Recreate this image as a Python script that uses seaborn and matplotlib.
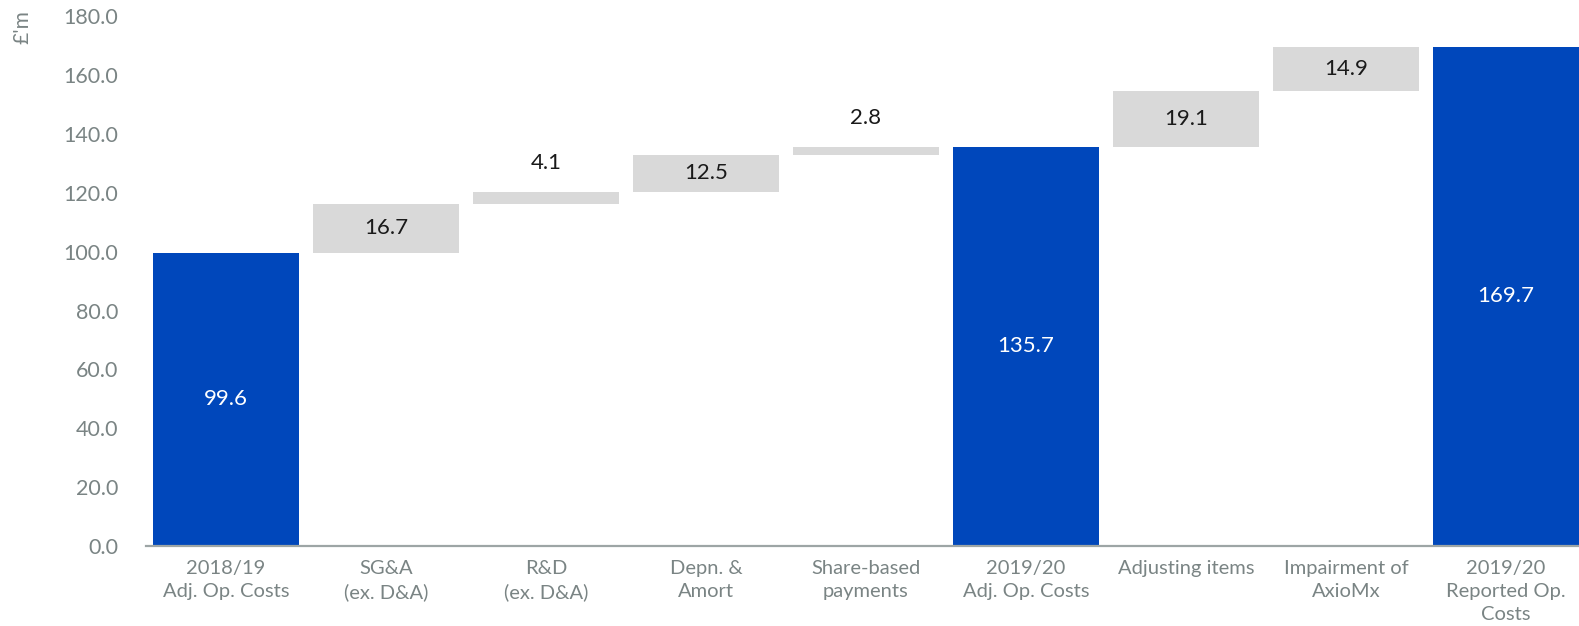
import matplotlib
matplotlib.use("Agg")
import matplotlib.pyplot as plt
import seaborn as sns
import numpy as np
from matplotlib.ticker import FixedLocator

categories = ["2018/19\nAdj. Op. Costs", "SG&A\n(ex. D&A)", "R&D\n(ex. D&A)", "Depn. &\nAmort",
              "Share-based\npayments", "2019/20\nAdj. Op. Costs", "Adjusting items",
              "Impairment of\nAxioMx", "2019/20\nReported Op.\nCosts"]
values = [99.6, 16.7, 4.1, 12.5, 2.8, 135.7, 19.1, 14.9, 169.7]
is_total = [True, False, False, False, False, True, False, False, True]
y_ticks = [0, 20, 40, 60, 80, 100, 120, 140, 160, 180]

BLUE = "#0047BB"
GREY = "#D9D9D9"
TICK_COL = "#7A8484"

# compute bottoms for waterfall
bottoms = []
running = 0.0
for v, t in zip(values, is_total):
    if t:
        bottoms.append(0.0)
        running = v
    else:
        bottoms.append(running)
        running += v
tops = [b + v for b, v in zip(bottoms, values)]
colors = [BLUE if t else GREY for t in is_total]

sns.set_theme(style="white")
plt.rcParams["font.family"] = ["Lato", "DejaVu Sans"]

fig = plt.figure(figsize=(15.79, 6.26), dpi=100)
ax = fig.add_axes([146 / 1579, 1 - 546 / 626, 1440 / 1579, 529.6 / 626])

sns.barplot(x=categories, y=tops, hue=categories, palette=colors, legend=False,
            width=0.91, saturation=1, ax=ax, linewidth=0)
sns.barplot(x=categories, y=bottoms, color="white", width=0.91, saturation=1, ax=ax, linewidth=0)

ax.set_ylim(0, 180)
ax.set_xlim(-0.5, len(categories) - 0.5)
ax.set_yticks(y_ticks)
ax.set_yticklabels([f"{v:.1f}" for v in y_ticks], color=TICK_COL, fontsize=15.5)
ax.tick_params(axis="y", length=0, pad=20)
ax.tick_params(axis="x", which="major", length=0, pad=10, labelsize=14.5, labelcolor=TICK_COL)
for lab in ax.get_xticklabels():
    lab.set_linespacing(1.45)
ax.xaxis.set_minor_locator(FixedLocator(np.arange(-0.5, len(categories), 1.0)))
ax.tick_params(axis="x", which="minor", length=6, width=1.5, color="#9DA5A5", direction="out")
for s in ["left", "right", "top"]:
    ax.spines[s].set_visible(False)
ax.spines["bottom"].set_color("#9DA5A5")
ax.spines["bottom"].set_linewidth(1.6)
ax.set_xlabel("")
ax.set_ylabel("")

FS = 16
for i, (b, v, t) in enumerate(zip(bottoms, values, is_total)):
    if t:
        ax.text(i, b + v / 2, f"{v:.1f}", ha="center", va="center", color="white", fontsize=FS)
    elif v < 5:
        ax.annotate(f"{v:.1f}", (i, b + v), xytext=(0, 21), textcoords="offset points",
                    ha="center", va="center", color="#1a1a1a", fontsize=FS)
    else:
        ax.text(i, b + v / 2, f"{v:.1f}", ha="center", va="center", color="#1a1a1a", fontsize=FS)

fig.text(22 / 1579, 1 - 27 / 626, "£'m", rotation=90, ha="center", va="center",
         color=TICK_COL, fontsize=15)

fig.savefig("out.png", dpi=100)
